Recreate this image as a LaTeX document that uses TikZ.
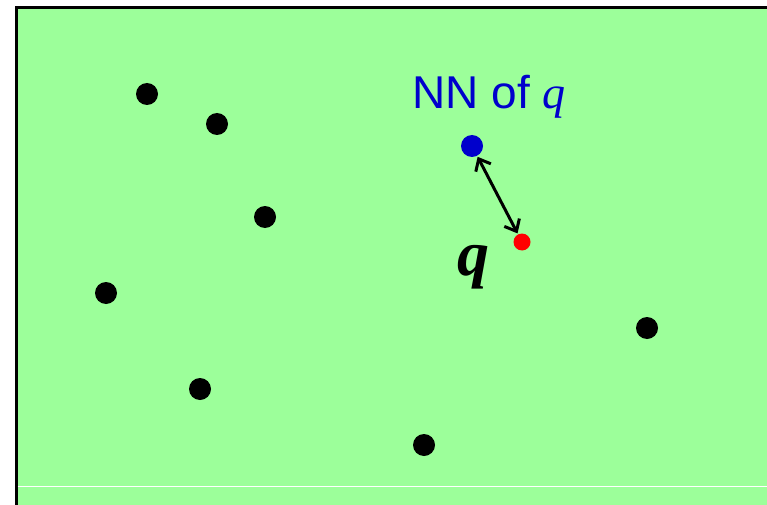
\documentclass[tikz,border=0pt]{standalone}
\usepackage{fontspec}
\setmainfont{Liberation Serif}
\newfontfamily\arialfont{Liberation Sans}
\usetikzlibrary{arrows.meta, positioning}
\definecolor{pGreen}{HTML}{9CFF9A}
\definecolor{pBlue}{HTML}{0000CC}
\definecolor{pRed}{HTML}{FF0000}

\begin{document}
\begin{tikzpicture}[x=1pt, y=-1pt,
    pt/.style={circle, fill=black, inner sep=0pt, minimum size=22pt},
    link/.style={line width=3pt, {Straight Barb[length=10pt,width=17pt]}-{Straight Barb[length=10pt,width=17pt]}, shorten <=1pt, shorten >=1pt}]
    \useasboundingbox (0,0) rectangle (767,505);
    \fill[pGreen] (16,8) rectangle (767,505);
    \draw[line width=3pt] (16,505) -- (16,8) -- (767,8);
    \draw[white, line width=1.6pt] (17.5,486.5) -- (767,486.5);
    % data points
    \foreach \x/\y [count=\i] in {147/94, 217/124, 265/217, 106/293, 200/389, 424/445, 647/328} {
      \node[pt] (p\i) at (\x,\y) {};
    }
    \node[pt, fill=pBlue] (nn) at (472,146) {};
    \node[circle, fill=pRed, inner sep=0pt, minimum size=17pt] (q) at (522,242) {};
    \draw[link] (nn) -- (q);
    \node[text=pBlue] (nnlabel) at (489,96.5) {\fontsize{46}{50}\selectfont\arialfont NN of {\fontspec{Liberation Serif}\itshape q}};
    \node (qlabel) at (473,267) {\fontsize{64}{68}\selectfont\bfseries\itshape q};
  \end{tikzpicture}
\end{document}
